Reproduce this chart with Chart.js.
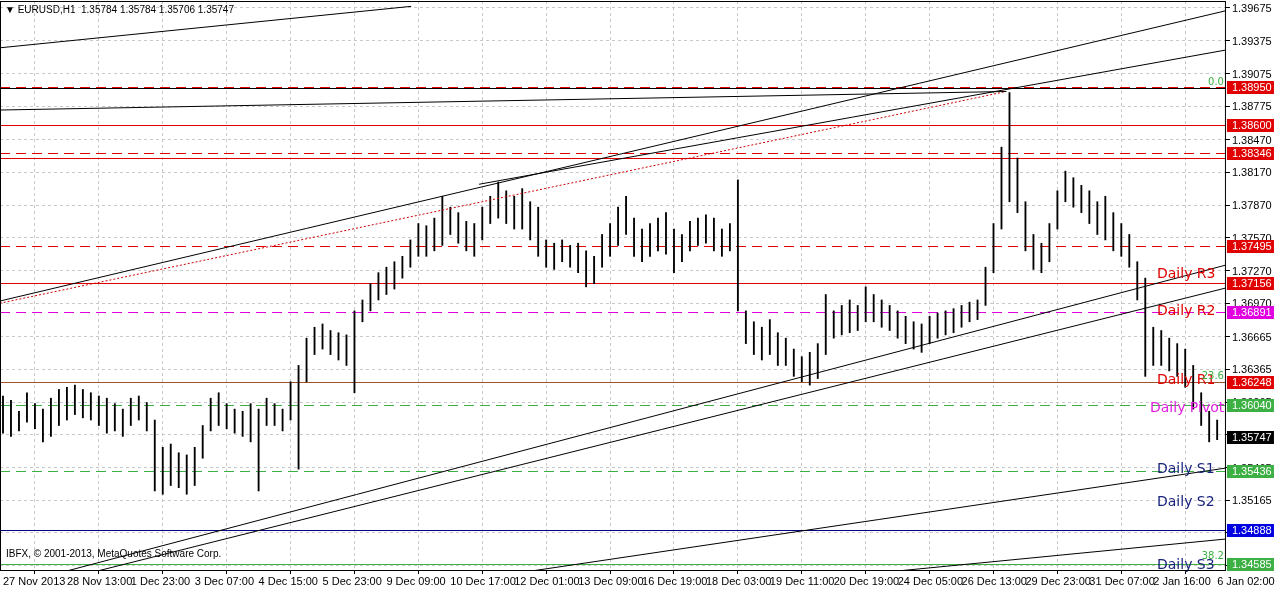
<!DOCTYPE html>
<html><head><meta charset="utf-8">
<script src="https://cdn.jsdelivr.net/npm/chart.js@4.4.0/dist/chart.umd.min.js"></script>
<style>html,body{margin:0;padding:0;background:#fff}#w{width:1276px;height:589px}</style>
</head><body><div id="w"><canvas id="c"></canvas></div>
<script>
const dateLabels=["27 Nov 2013","28 Nov 13:00","1 Dec 23:00","3 Dec 07:00","4 Dec 15:00","5 Dec 23:00","9 Dec 09:00","10 Dec 17:00","12 Dec 01:00","13 Dec 09:00","16 Dec 19:00","18 Dec 03:00","19 Dec 11:00","20 Dec 19:00","24 Dec 05:00","26 Dec 13:00","29 Dec 23:00","31 Dec 07:00","2 Jan 16:00","6 Jan 02:00"];
const priceTicks=[1.39675,1.39375,1.39075,1.38775,1.38470,1.38170,1.37870,1.37570,1.37270,1.36970,1.36665,1.36365,1.36065,1.35765,1.35465,1.35165,1.34865,1.34565];
const highs=[1.3612,1.3608,1.3598,1.3615,1.3605,1.3600,1.3610,1.3618,1.3620,1.3622,1.3618,1.3615,1.3612,1.3610,1.3605,1.3600,1.3610,1.3612,1.3606,
1.3590,1.3565,1.3568,1.3560,1.3558,1.3565,
1.3585,1.3610,1.3615,1.3605,1.3600,1.3598,1.3605,
1.3600,
1.3610,1.3605,1.3600,1.3625,1.3640,
1.3665,1.3675,1.3678,1.3672,1.3670,1.3668,
1.3690,
1.3700,1.3715,1.3725,1.3730,1.3735,1.3740,1.3755,1.3770,
1.3768,1.3775,1.3795,1.3785,
1.3780,1.3772,1.3770,1.3785,1.3795,
1.3808,
1.3800,1.3795,1.3802,1.3790,1.3785,
1.3755,1.3752,1.3755,1.3750,1.3752,
1.3745,1.3740,1.3760,
1.3770,1.3785,1.3795,1.3775,1.3765,
1.3770,1.3775,1.3780,1.3765,1.3760,1.3772,1.3775,1.3778,
1.3775,1.3765,1.3770,
1.3810,
1.3690,1.3680,1.3675,1.3682,1.3670,1.3665,
1.3655,1.3648,1.3652,1.3660,
1.3705,1.3690,1.3695,1.3700,1.3695,1.3712,
1.3705,1.3700,1.3695,1.3690,1.3685,
1.3680,1.3678,1.3685,1.3688,1.3690,1.3692,1.3695,1.3698,1.3700,
1.3730,1.3770,1.3840,
1.3890,
1.3830,1.3790,1.3760,1.3752,1.3770,1.3800,
1.3818,1.3812,1.3805,1.3800,
1.3790,1.3795,1.3780,1.3770,1.3760,
1.3735,1.3720,
1.3675,1.3672,1.3665,1.3660,1.3655,
1.3640,1.3615,1.3598,1.3590];
const lows=[1.3578,1.3575,1.3580,1.3588,1.3582,1.3570,1.3575,1.3585,1.3590,1.3595,1.3592,1.3590,1.3585,1.3578,1.3580,1.3575,1.3585,1.3590,1.3580,
1.3525,1.3522,1.3530,1.3528,1.3522,1.3530,
1.3555,1.3580,1.3585,1.3582,1.3578,1.3575,1.3570,
1.3525,
1.3585,1.3585,1.3580,1.3590,1.3545,
1.3625,1.3650,1.3655,1.3650,1.3645,1.3640,
1.3615,
1.3680,1.3690,1.3700,1.3705,1.3710,1.3720,1.3730,1.3740,
1.3740,1.3745,1.3750,1.3760,
1.3752,1.3745,1.3740,1.3755,1.3770,
1.3775,
1.3770,1.3765,1.3765,1.3755,1.3740,
1.3730,1.3728,1.3735,1.3730,1.3725,
1.3712,1.3715,1.3730,
1.3740,1.3750,1.3760,1.3740,1.3735,
1.3740,1.3745,1.3742,1.3725,1.3735,1.3745,1.3750,1.3752,
1.3745,1.3740,1.3745,
1.3690,
1.3660,1.3650,1.3645,1.3650,1.3640,1.3640,
1.3630,1.3625,1.3622,1.3628,
1.3650,1.3665,1.3668,1.3670,1.3672,1.3680,
1.3680,1.3675,1.3672,1.3665,1.3660,
1.3655,1.3652,1.3660,1.3665,1.3668,1.3670,1.3675,1.3680,1.3682,
1.3695,1.3725,1.3765,
1.3790,
1.3780,1.3745,1.3728,1.3725,1.3735,1.3765,
1.3790,1.3785,1.3780,1.3770,
1.3760,1.3755,1.3745,1.3740,1.3730,
1.3700,1.3630,
1.3640,1.3640,1.3635,1.3630,1.3620,
1.3600,1.3585,1.3570,1.3572];
// trendlines: [x0,y0,x1,y1] in bar index / price
const trendLines=[[-0.4,1.3931,51.1,1.3969],[-0.4,1.3874,125.6,1.3891],[-0.4,1.3699,153.1,1.3965],
[59.6,1.3806,153.1,1.3929],[7.1,1.3450,153.1,1.3732],[10.9,1.3450,153.1,1.3711],
[64.6,1.3450,153.1,1.3546],[109.6,1.3450,153.1,1.3481]];
const redDotLine=[-0.4,1.3697,125.6,1.3891];
// horizontal levels: price, colour, dashed, label box colour
const levels=[[1.38950,'#e00000',true,'#e00000'],[1.38600,'#e00000',false,'#e00000'],[1.38346,'#e00000',true,'#e00000'],[1.38300,'#e00000',false,null],
[1.37495,'#e00000',true,'#e00000'],[1.37156,'#e00000',false,'#e00000'],[1.36891,'#e000e0',true,'#e000e0'],[1.36248,'#a0522d',false,'#e00000'],
[1.36040,'#3cb043',true,'#3cb043'],[1.35436,'#3cb043',true,'#3cb043'],[1.34888,'#000080',false,'#0000e0'],[1.34585,'#3cb043',false,'#3cb043']];
const pivotTexts=[["Daily R3",1.3723,'#e00000'],["Daily R2",1.3690,'#e00000'],["Daily R1",1.3626,'#e00000'],["Daily Pivot",1.3601,'#e020e0'],["Daily S1",1.3545,'#1a237e'],["Daily S2",1.3515,'#1a237e'],["Daily S3",1.3457,'#1a237e']];
const lastPrice=1.35747;

const YMIN=1.34526,YMAX=1.39739;
const FONT='"Liberation Sans"';
const ds=[{type:'bar',data:highs.map((h,i)=>({x:i,y:[lows[i],h]})),backgroundColor:'#000',barThickness:1.2,grouped:false,order:1}];
trendLines.forEach(t=>ds.push({type:'line',data:[{x:t[0],y:t[1]},{x:t[2],y:t[3]}],borderColor:'#000',borderWidth:1,pointRadius:0,order:0}));
ds.push({type:'line',data:[{x:redDotLine[0],y:redDotLine[1]},{x:redDotLine[2],y:redDotLine[3]}],borderColor:'#d00000',borderDash:[2,2],borderWidth:1,pointRadius:0});

const deco={id:'deco',
beforeDatasetsDraw(c){const {ctx,chartArea:a,scales:{x,y}}=c;ctx.save();
 levels.forEach(l=>{const py=Math.round(y.getPixelForValue(l[0]));ctx.fillStyle=l[1];
  if(l[2]){for(let px=a.left;px<a.right;px+=16)ctx.fillRect(px,py,Math.min(10,a.right-px),1);}else ctx.fillRect(a.left,py,a.right-a.left,1);});
 ctx.fillStyle='#000';ctx.fillRect(a.left,Math.round(y.getPixelForValue(1.3895))+1,a.right-a.left,1);
 ctx.restore();},
afterDatasetsDraw(c){const {ctx,chartArea:a,scales:{x,y}}=c;ctx.save();
 ctx.font='14px "DejaVu Sans"';ctx.textBaseline='middle';ctx.textAlign='left';
 pivotTexts.forEach(p=>{ctx.fillStyle=p[2];ctx.fillText(p[0],p[0]=="Daily Pivot"?1150:1157,y.getPixelForValue(p[1]));});
 ctx.font='10px "DejaVu Sans"';ctx.fillStyle='#3cb043';ctx.textAlign='right';
 ctx.fillText('0.0',a.right-2,y.getPixelForValue(1.3895)-5);ctx.fillText('23.6',a.right-2,y.getPixelForValue(1.36248)-6);ctx.fillText('38.2',a.right-2,y.getPixelForValue(1.34585)-7);
 ctx.textAlign='left';ctx.fillStyle='#000';ctx.font='10px '+FONT;ctx.fillText('IBFX, © 2001-2013, MetaQuotes Software Corp.',6,y.getPixelForValue(1.3467));
 ctx.fillText('▼ EURUSD,H1  1.35784 1.35784 1.35706 1.35747',5,10);
 ctx.strokeStyle='#000';ctx.lineWidth=1;ctx.strokeRect(a.left+0.5,a.top+0.5,a.right-a.left-1,a.bottom-a.top);
 ctx.font='11px '+FONT;
 priceTicks.forEach(v=>{ctx.fillStyle='#000';ctx.fillText(v.toFixed(5),a.right+6,y.getPixelForValue(v)+1);});
 const box=(v,bg,fg)=>{const py=Math.round(y.getPixelForValue(v));ctx.fillStyle=bg;ctx.fillRect(a.right+1,py-6,47,13);ctx.fillStyle=fg;ctx.fillText(v.toFixed(5),a.right+6,py+1);};
 levels.forEach(l=>{if(l[3])box(l[0],l[3],'#fff');});
 box(lastPrice,'#000','#fff');
 ctx.restore();}};

new Chart(document.getElementById('c'),{data:{datasets:ds},plugins:[deco],
options:{responsive:true,maintainAspectRatio:false,animation:false,
 layout:{padding:{left:0,top:1,right:0,bottom:0}},
 plugins:{legend:{display:false},tooltip:{enabled:false}},
 scales:{
  x:{type:'linear',min:-0.375,max:153.1,offset:false,
   afterBuildTicks:s=>{s.ticks=dateLabels.map((d,i)=>({value:i*8}));},
   grid:{color:'#c8c8c8',tickLength:4,tickColor:'#000'},border:{display:false,dash:[3,3]},
   ticks:{autoSkip:false,maxRotation:0,align:'start',padding:1,color:'#000',font:{family:'Liberation Sans',size:11},callback:v=>dateLabels[Math.round(v/8)]},
   afterFit:s=>{s.height=19;}},
  y:{position:'right',min:YMIN,max:YMAX,
   afterBuildTicks:s=>{s.ticks=priceTicks.map(v=>({value:v}));},
   grid:{color:'#c8c8c8',tickLength:4,tickColor:'#000'},border:{display:false,dash:[3,3]},
   ticks:{display:false},
   afterFit:s=>{s.width=48;}}
 }}});
</script></body></html>
